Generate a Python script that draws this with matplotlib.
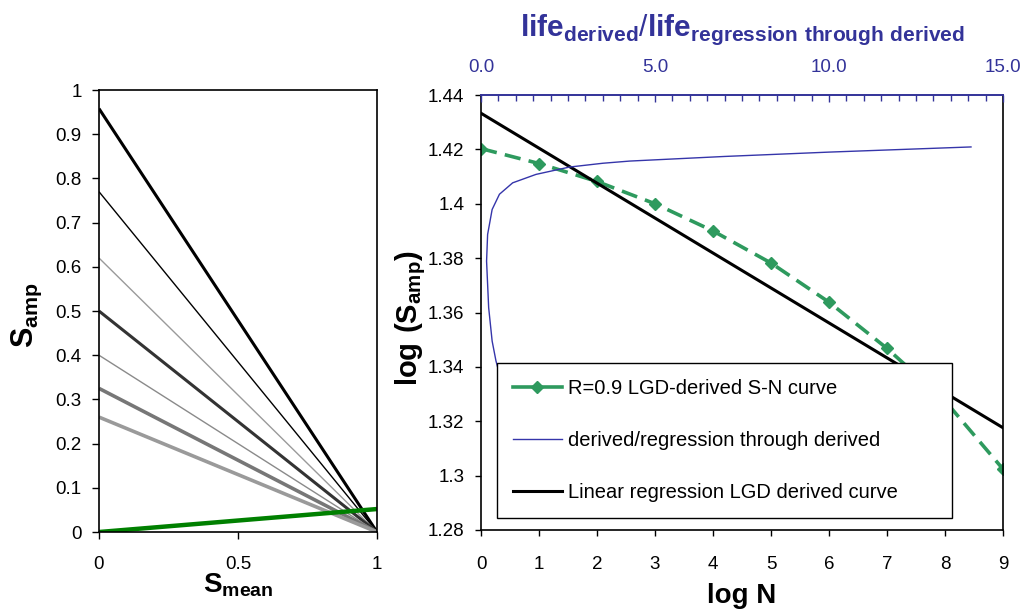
import numpy as np
import matplotlib.pyplot as plt
from matplotlib.lines import Line2D
from matplotlib.ticker import MultipleLocator, FixedLocator

plt.rcParams['font.family'] = ['Liberation Sans', 'DejaVu Sans']
plt.rcParams['mathtext.fontset'] = 'custom'
plt.rcParams['mathtext.rm'] = 'Liberation Sans'
plt.rcParams['mathtext.bf'] = 'Liberation Sans:bold'

# left panel: Goodman-type lines from (0, amp) to (1, 0)
amp0 = [0.958, 0.77, 0.62, 0.50, 0.40, 0.325, 0.26]
amp_col = ['#000000', '#000000', '#9a9a9a', '#333333', '#8a8a8a', '#777777', '#9a9a9a']
amp_lw = [2.2, 1.0, 1.0, 2.2, 1.0, 2.6, 2.6]
mean_pts = [0, 1]
green_amp = [0.0, 0.052]

# right panel
logN = [0, 1, 2, 3, 4, 5, 6, 7, 8, 9]
s_derived = [1.4203, 1.4148, 1.4082, 1.4000, 1.3900, 1.3782, 1.3638, 1.3468, 1.3275, 1.3024]
reg_N = [0, 9]
reg_s = [1.4333, 1.3176]

ratio = [0.60, 0.43, 0.32, 0.22, 0.16, 0.19, 0.32, 0.53, 0.91, 1.58, 2.54, 3.50,
         4.27, 7.0, 10.0, 14.08]
ratio_s = [1.334, 1.3422, 1.3495, 1.3618, 1.3789, 1.3887, 1.3979, 1.4035, 1.4077,
           1.4108, 1.4135, 1.4149, 1.4157, 1.4174, 1.4190, 1.4209]

navy = '#333399'
green = '#2e9a5e'

fig = plt.figure(figsize=(10.28, 6.13), dpi=100)

# ---- left
ax1 = fig.add_axes([0.0963, 0.1321, 0.2704, 0.7210])
for a, c, w in zip(amp0, amp_col, amp_lw):
    ax1.plot(mean_pts, [a, 0], color=c, lw=w, solid_capstyle='butt')
ax1.plot(mean_pts, green_amp, color='#008000', lw=3.2, solid_capstyle='butt')
ax1.set_xlim(0, 1)
ax1.set_ylim(0, 1)
ax1.set_yticks(np.arange(0, 11) / 10)
ax1.set_yticklabels(['0', '0.1', '0.2', '0.3', '0.4', '0.5', '0.6', '0.7', '0.8', '0.9', '1'])
ax1.set_xticks([0, 0.5, 1])
ax1.set_xticklabels(['0', '0.5', '1'])
ax1.tick_params(axis='y', direction='out', length=5, width=1, labelsize=13.5, pad=7.5)
ax1.tick_params(axis='x', direction='out', length=5, width=1, labelsize=13.5, pad=12)
for sp in ax1.spines.values():
    sp.set_linewidth(1.2)
ax1.set_ylabel(r'$\mathbf{S}_{\mathbf{amp}}$', fontsize=22)
ax1.yaxis.set_label_coords(-0.198, 0.49)
ax1.set_xlabel(r'$\mathbf{S}_{\mathbf{mean}}$', fontsize=20)
ax1.xaxis.label.set_va('baseline')
ax1.xaxis.set_label_coords(0.5, -0.1357)

# ---- right
ax = fig.add_axes([0.4679, 0.1354, 0.5078, 0.7096])
l_green, = ax.plot(logN, s_derived, color=green, lw=2.6, ls=(0, (4.5, 2.3)),
                   marker='D', ms=6.5, mec=green, mfc=green,
                   label='R=0.9 LGD-derived S-N curve')
l_reg, = ax.plot(reg_N, reg_s, color='black', lw=2.2,
                 label='Linear regression LGD derived curve')
ax.set_xlim(0, 9)
ax.set_ylim(1.28, 1.44)
ax.set_xticks(range(0, 10))
ax.set_yticks(np.arange(1.28, 1.4401, 0.02))
ax.set_yticklabels(['1.28', '1.3', '1.32', '1.34', '1.36', '1.38', '1.4', '1.42', '1.44'])
ax.tick_params(axis='both', direction='out', length=4.5, width=1, labelsize=13.5)
ax.tick_params(axis='x', pad=14)
ax.tick_params(axis='y', pad=7.5)
ax.set_xlabel('log N', fontsize=20, fontweight='bold')
ax.xaxis.label.set_va('baseline')
ax.xaxis.set_label_coords(0.5, -0.1685)
ax.set_ylabel(r'$\mathbf{log\ (S}_{\mathbf{amp}}\mathbf{)}$', fontsize=21)
ax.yaxis.set_label_coords(-0.1015, 0.486)
for sp in ax.spines.values():
    sp.set_linewidth(1.2)
ax.spines['top'].set_visible(False)

ax2 = ax.twiny()
l_blue, = ax2.plot(ratio, ratio_s, color='#3535aa', lw=1.0,
                   label='derived/regression through derived')
ax2.set_xlim(0, 15)
ax2.xaxis.set_major_locator(FixedLocator([0, 5, 10, 15]))
ax2.xaxis.set_minor_locator(MultipleLocator(0.5))
ax2.set_xticklabels(['0.0', '5.0', '10.0', '15.0'])
ax2.tick_params(axis='x', which='major', direction='in', length=5, width=1,
                colors=navy, labelsize=13.5, pad=13.5)
ax2.tick_params(axis='x', which='minor', direction='in', length=4, width=1, colors=navy)
ax2.spines['top'].set_color(navy)
ax2.spines['top'].set_linewidth(1.4)
for k in ['left', 'right', 'bottom']:
    ax2.spines[k].set_visible(False)
ax2.set_xlabel(r'$\mathbf{life}_{\mathbf{derived}}/\mathbf{life}_{\mathbf{regression\ through\ derived}}$',
               fontsize=21.5, color=navy)
ax2.xaxis.label.set_va('baseline')
ax2.xaxis.set_label_coords(0.5, 1.137)

# legend handle for the S-N curve drawn like the spreadsheet key (solid with one marker)
key_green = Line2D([], [], color=green, lw=2.6, marker='D', ms=6.5, mec=green, mfc=green)
leg = ax2.legend([key_green, l_blue, l_reg],
                 [l_green.get_label(), l_blue.get_label(), l_reg.get_label()],
                 loc='lower left', bbox_to_anchor=(0.031, 0.028, 0.871, 0.363),
                 mode='expand', borderaxespad=0, fontsize=14.5, numpoints=1,
                 handlelength=2.4, handletextpad=0.3, labelspacing=1.64,
                 borderpad=0.8, fancybox=False, framealpha=1, edgecolor='black')
leg.get_frame().set_linewidth(1.0)

fig.savefig('out.png', dpi=100)
